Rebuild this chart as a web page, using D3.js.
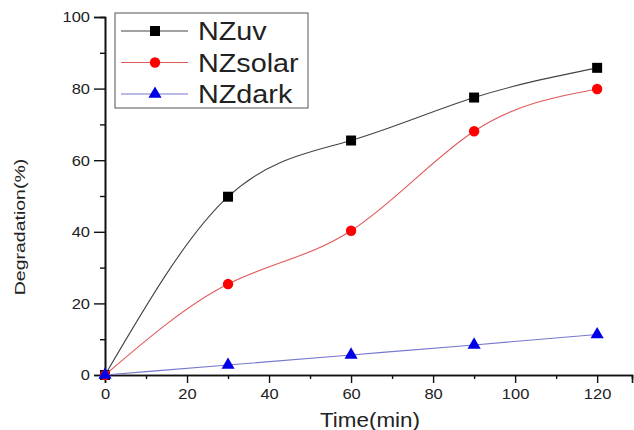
<!DOCTYPE html>
<html>
<head>
<meta charset="utf-8">
<script src="https://cdn.jsdelivr.net/npm/d3@7"></script>
<style>
  body { margin: 0; background: #fff; }
  text { font-family: "Liberation Sans", Arial, sans-serif; fill: #222; }
</style>
</head>
<body>
<script>
// data
const times = [0, 30, 60, 90, 120];
const nzUv = [0, 49.8, 65.5, 77.5, 85.8];
const nzSolar = [0, 25.4, 40.3, 68.1, 79.9];
const nzDark = [0, 2.8, 5.6, 8.4, 11.3];
const seriesNames = ["NZuv", "NZsolar", "NZdark"];
const xTicks = [0, 20, 40, 60, 80, 100, 120];
const yTicks = [0, 20, 40, 60, 80, 100];

const W = 634, H = 430;

let svg = d3.select("body").append("svg")
    .attr("width", W)
    .attr("height", H);

let xScale = d3.scaleLinear().domain([0, 128.5]).range([105, 632]);
let yScale = d3.scaleLinear().domain([0, 100]).range([375, 17]);

// stretch text a bit, the original font is wider than Arial
function widen(sel, k) {
  sel.each(function() {
    let w = this.getComputedTextLength();
    d3.select(this).attr("textLength", w * k).attr("lengthAdjust", "spacingAndGlyphs");
  });
}

//--------------------------------
// AXES
//--------------------------------
let xAxis = d3.axisBottom(xScale).tickValues(xTicks).tickSize(8).tickPadding(5);
let xMinor = d3.axisBottom(xScale).tickValues(d3.range(10, 130, 20)).tickSize(4).tickFormat("");
let yAxis = d3.axisLeft(yScale).tickValues(yTicks).tickSize(11).tickPadding(4);
let yMinor = d3.axisLeft(yScale).tickValues(d3.range(10, 100, 20)).tickSize(5).tickFormat("");

let gx = svg.append("g").attr("transform", "translate(0,375)").call(xAxis);
svg.append("g").attr("transform", "translate(0,375)").call(xMinor);
let gy = svg.append("g").attr("transform", "translate(105,0)").call(yAxis);
svg.append("g").attr("transform", "translate(105,0)").call(yMinor);

svg.selectAll(".domain").attr("stroke", "#111").attr("stroke-width", 1.6);
svg.selectAll(".tick line").attr("stroke", "#111").attr("stroke-width", 1.4);
svg.selectAll(".tick text").attr("font-size", 15).attr("fill", "#222");
gx.selectAll(".tick text").call(widen, 1.1);
gy.selectAll(".tick text").call(widen, 1.1);

svg.append("text")
    .attr("x", 370).attr("y", 427)
    .attr("text-anchor", "middle")
    .attr("font-size", 20)
    .text("Time(min)")
    .call(widen, 1.12);

svg.append("text")
    .attr("transform", "translate(25,227) rotate(-90)")
    .attr("text-anchor", "middle")
    .attr("font-size", 15)
    .text("Degradation(%)")
    .call(widen, 1.3);

//--------------------------------
// LINES AND MARKERS
//--------------------------------
let series = [
  { name: seriesNames[0], values: nzUv, line: "#444", fill: "#000", shape: d3.symbolSquare, size: 100 },
  { name: seriesNames[1], values: nzSolar, line: "#e05a5a", fill: "#f00", shape: d3.symbolCircle, size: 85 },
  { name: seriesNames[2], values: nzDark, line: "#7777cc", fill: "#0000e6", shape: d3.symbolTriangle, size: 75 }
];

let line = d3.line()
    .curve(d3.curveNatural)
    .x(d => xScale(d.t))
    .y(d => yScale(d.v));

series.forEach(s => {
  let pts = times.map((t, i) => ({ t: t, v: s.values[i] }));
  svg.append("path")
      .datum(pts)
      .attr("fill", "none")
      .attr("stroke", s.line)
      .attr("stroke-width", 1.1)
      .attr("d", line);
  svg.selectAll(null)
      .data(pts)
      .enter().append("path")
      .attr("transform", d => "translate(" + xScale(d.t) + "," + yScale(d.v) + ")")
      .attr("d", d3.symbol().type(s.shape).size(s.size))
      .attr("fill", s.fill);
});

//--------------------------------
// LEGEND
//--------------------------------
let legend = svg.append("g");
legend.append("rect")
    .attr("x", 115).attr("y", 13)
    .attr("width", 193).attr("height", 95)
    .attr("fill", "#fff")
    .attr("stroke", "#555")
    .attr("stroke-width", 1);

series.forEach((s, i) => {
  let y = 31 + i * 31.5;
  legend.append("line")
      .attr("x1", 121).attr("x2", 188)
      .attr("y1", y).attr("y2", y)
      .attr("stroke", s.line).attr("stroke-width", 1.1);
  legend.append("path")
      .attr("transform", "translate(155," + y + ")")
      .attr("d", d3.symbol().type(s.shape).size(s.size))
      .attr("fill", s.fill);
  legend.append("text")
      .attr("x", 198).attr("y", y + 9)
      .attr("font-size", 25)
      .text(s.name)
      .call(widen, 1.15);
});
</script>
</body>
</html>
